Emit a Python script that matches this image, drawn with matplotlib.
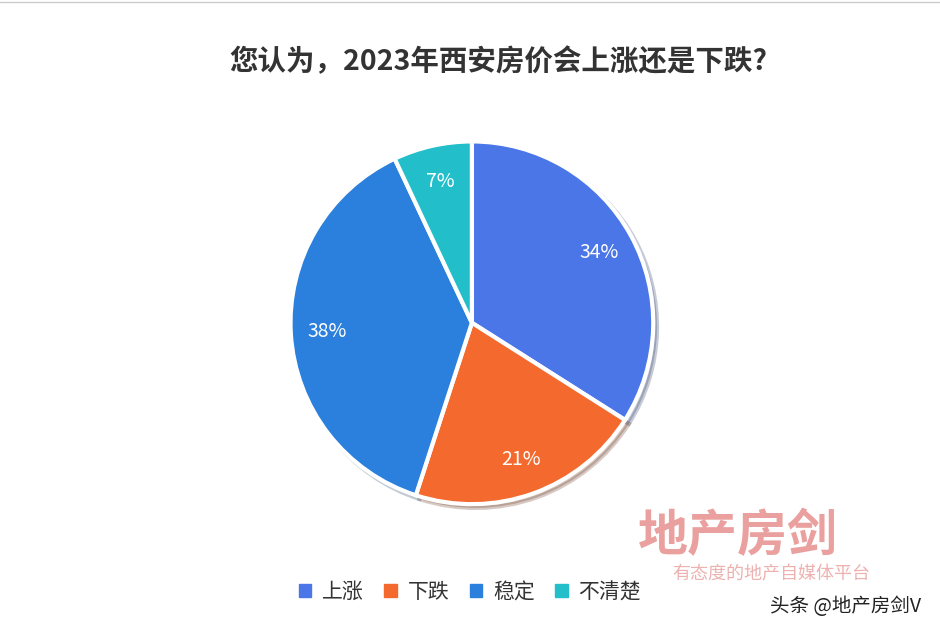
import matplotlib
matplotlib.use("Agg")
import matplotlib.pyplot as plt
from matplotlib.patches import Patch

plt.rcParams['font.family'] = ['Noto Sans CJK SC', 'DejaVu Sans']

categories = ['上涨', '下跌', '稳定', '不清楚']
values = [34, 21, 38, 7]
colors = ['#4A76E8', '#F4692D', '#2A80DC', '#22BFCB']

fig = plt.figure(figsize=(9.4, 6.28), dpi=100)
fig.patch.set_facecolor('white')
w, h = 0.383 * 1.26, 0.573 * 1.26
ax = fig.add_axes([0.502 - w / 2, 0.486 - h / 2, w, h])
wedges, texts, autotexts = ax.pie(
    values, colors=colors, startangle=90, counterclock=False,
    autopct=lambda p: f'{p:.0f}%', pctdistance=0.8,
    wedgeprops=dict(edgecolor='white', linewidth=3), shadow=dict(shade=0.6, ox=0.015, oy=-0.015, alpha=0.25),
    textprops=dict(color='white', fontsize=14))
ax.set_aspect('equal')

fig.text(0.53, 0.901, '您认为，2023年西安房价会上涨还是下跌?', ha='center', va='center',
         fontsize=20.5, fontweight='bold', color='#333333')

fig.legend([Patch(color=c) for c in colors], categories, loc='center',
           bbox_to_anchor=(0.5, 0.057), ncol=4, frameon=False, fontsize=15,
           handlelength=0.6, handleheight=0.6, columnspacing=1.0, handletextpad=0.5,
           labelcolor='#333333')

fig.text(0.785, 0.145, '地产房剑', ha='center', va='center', fontsize=36, fontweight='bold',
         color='#D9534F', alpha=0.55)
fig.text(0.82, 0.085, '有态度的地产自媒体平台', ha='center', va='center', fontsize=13,
         color='#D9534F', alpha=0.45)
fig.text(0.98, 0.035, '头条 @地产房剑V', ha='right', va='center', fontsize=14, color='#222222')

fig.lines.append(plt.Line2D([0, 1], [0.997, 0.997], transform=fig.transFigure, color='#cccccc', lw=1))
fig.savefig('out.png', dpi=100)
